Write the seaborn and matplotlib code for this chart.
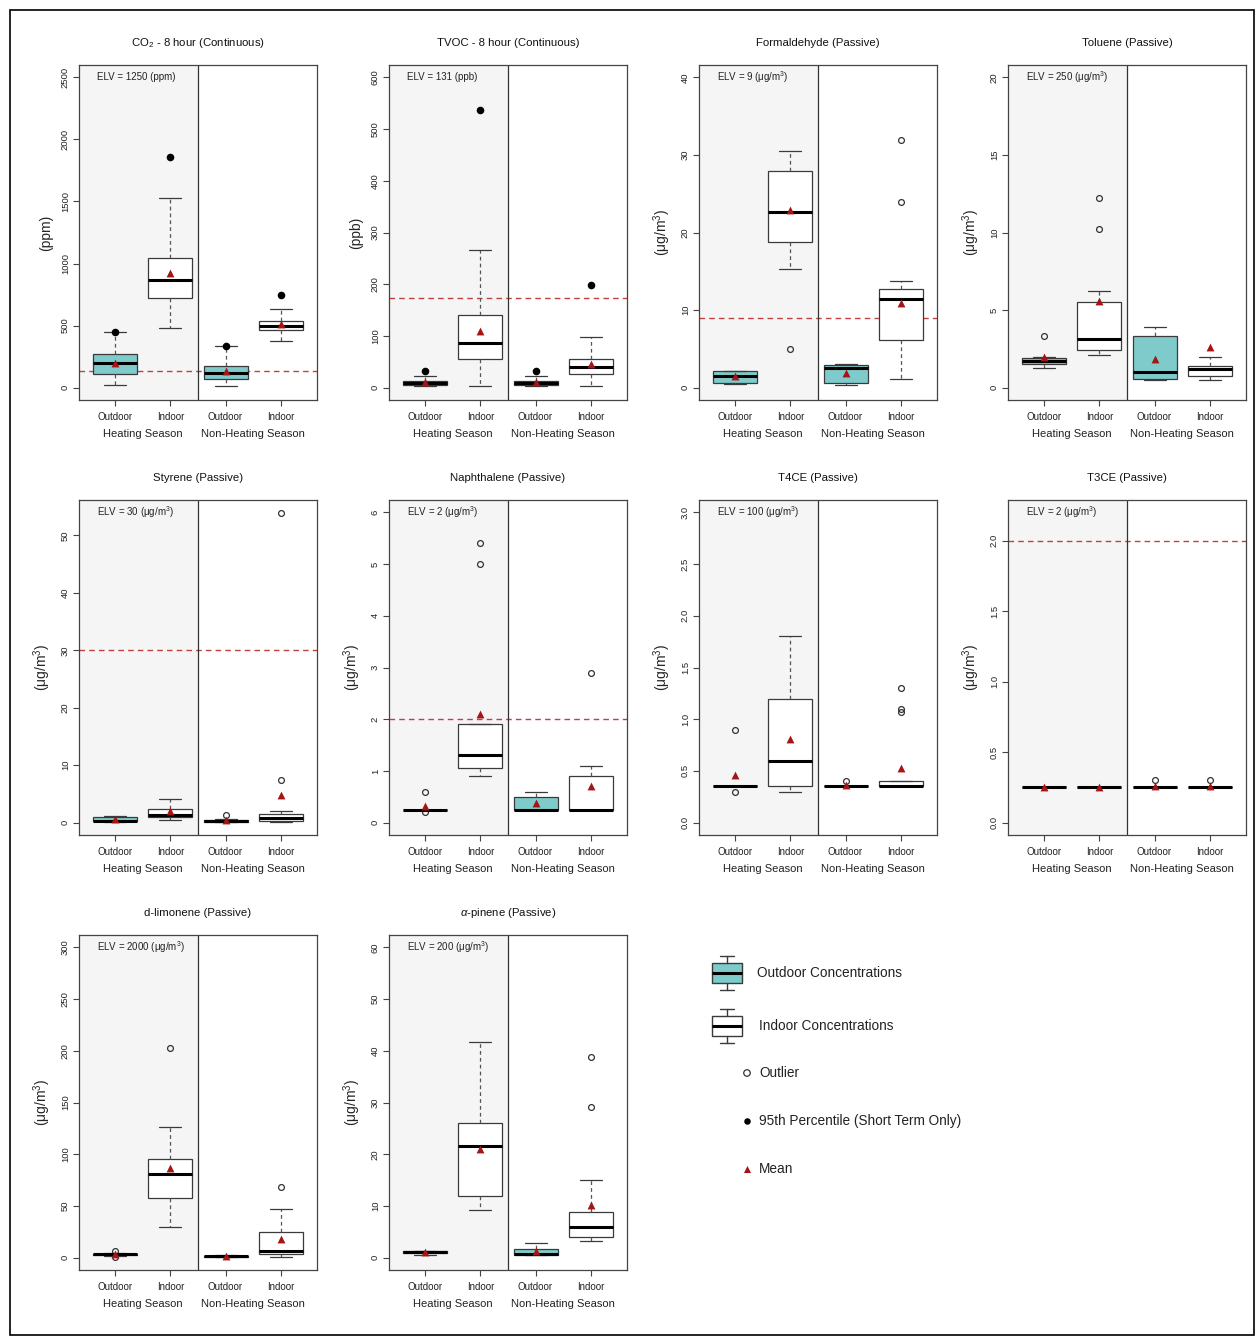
import matplotlib
matplotlib.use("Agg")
import matplotlib.pyplot as plt
import numpy as np
import pandas as pd
import seaborn as sns
from matplotlib.patches import Rectangle

# ---- data -----------------------------------------------------------------
TITLES = ["CO$_2$ - 8 hour (Continuous)", "TVOC - 8 hour (Continuous)",
          "Formaldehyde (Passive)", "Toluene (Passive)", "Styrene (Passive)",
          "Naphthalene (Passive)", "T4CE (Passive)", "T3CE (Passive)",
          "d-limonene (Passive)", "$\\alpha$-pinene (Passive)"]
UG = "(\u03bcg/m$^3$)"
YLABELS = ["(ppm)", "(ppb)"] + [UG] * 8
ELV_TEXT = ["ELV = 1250 (ppm)", "ELV = 131 (ppb)", "ELV = 9 (\u03bcg/m$^3$)",
            "ELV = 250 (\u03bcg/m$^3$)", "ELV = 30 (\u03bcg/m$^3$)", "ELV = 2 (\u03bcg/m$^3$)",
            "ELV = 100 (\u03bcg/m$^3$)", "ELV = 2 (\u03bcg/m$^3$)",
            "ELV = 2000 (\u03bcg/m$^3$)", "ELV = 200 (\u03bcg/m$^3$)"]
ELV_LINE = [132, 174, 9, None, 30, 2, None, 2, None, None]
Y_MAX = [2500, 600, 40, 20, 54, 6, 3, 2.2, 300, 60]
Y_STEP = [500, 100, 10, 5, 10, 1, 0.5, 0.5, 50, 10]

GROUPS = ["Outdoor", "Indoor", "Outdoor", "Indoor"]
SEASONS = ["Heating Season", "Non-Heating Season"]

# (whisker low, Q1, median, Q3, whisker high) for Outdoor-H, Indoor-H, Outdoor-NH, Indoor-NH
BOX_STATS = [
    [(19, 108, 202, 269, 449), (482, 724, 867, 1041, 1526), (11, 73, 121, 172, 336), (377, 463, 498, 535, 635)],
    [(2.6, 5, 9, 13, 22.6), (2.6, 55, 86.6, 140, 266), (2.6, 4.5, 9, 13, 22.6), (3, 26, 39, 55, 98)],
    [(0.4, 0.65, 1.55, 2.15, 2.15), (15.3, 18.8, 22.6, 27.9, 30.5), (0.3, 0.6, 2.5, 2.9, 3.1), (1.16, 6.1, 11.4, 12.7, 13.8)],
    [(1.29, 1.49, 1.7, 1.92, 1.95), (2.13, 2.45, 3.14, 5.55, 6.24), (0.47, 0.54, 1.0, 3.3, 3.9), (0.47, 0.73, 1.2, 1.38, 1.98)],
    [(0.1, 0.2, 0.35, 1.0, 1.1), (0.5, 1.0, 1.4, 2.3, 4.1), (0.1, 0.15, 0.3, 0.45, 0.6), (0.1, 0.35, 0.75, 1.5, 2.1)],
    [(0.25, 0.25, 0.25, 0.25, 0.25), (0.9, 1.05, 1.3, 1.9, 1.9), (0.25, 0.25, 0.25, 0.5, 0.6), (0.25, 0.25, 0.25, 0.9, 1.1)],
    [(0.35, 0.35, 0.35, 0.35, 0.35), (0.3, 0.35, 0.6, 1.2, 1.8), (0.35, 0.35, 0.35, 0.35, 0.35), (0.35, 0.35, 0.35, 0.4, 0.4)],
    [(0.25, 0.25, 0.25, 0.25, 0.25)] * 4,
    [(2, 2.5, 3, 3.5, 4), (29.4, 58, 80.8, 95.4, 126), (0.5, 1.0, 1.5, 2.0, 2.5), (0.6, 3.5, 6.8, 25, 47)],
    [(0.45, 0.85, 1.0, 1.2, 1.2), (9.2, 12, 21.6, 26.05, 41.7), (0.45, 0.5, 0.6, 1.6, 2.9), (3.2, 4.0, 6.0, 8.9, 15.0)],
]
OUTLIERS = [
    [[], [], [], []],
    [[], [], [], []],
    [[], [5.0], [], [23.9, 31.9]],
    [[3.3], [10.2, 12.2], [], []],
    [[], [], [1.3], [7.4, 53.9]],
    [[0.6, 0.2], [5.0, 5.4], [], [2.9]],
    [[0.9, 0.3], [], [0.4], [1.3, 1.1, 1.07]],
    [[], [], [0.3], [0.3]],
    [[6.5, 1.0], [202.7], [], [68]],
    [[], [], [], [29.2, 38.8]],
]
MEANS = [
    [200, 920, 135, 511], [11, 110, 11, 46], [1.5, 22.9, 1.9, 10.9], [2.0, 5.6, 1.87, 2.6],
    [0.6, 2.0, 0.45, 4.8], [0.32, 2.1, 0.38, 0.7], [0.46, 0.81, 0.36, 0.53],
    [0.25, 0.25, 0.26, 0.26], [3, 87, 1.6, 17.8], [1.1, 21.1, 1.3, 10.1],
]
P95 = [[449, 1857, 336, 745], [33, 536, 33, 198]] + [None] * 8

LEGEND_LABELS = ["Outdoor Concentrations", "Indoor Concentrations", "Outlier",
                 "95th Percentile (Short Term Only)", "Mean"]

# ---- style -----------------------------------------------------------------
TEAL = "#7fcaca"
SHADE = "#f5f5f5"
MEAN_COLOR = "#a51515"
ELV_COLOR = "#c24040"
EDGE = "#3a3a3a"
BOX_COLORS = [TEAL, "white", TEAL, "white"]
POS = [1, 2, 3, 4]

sns.set_theme(style="white")
plt.rcParams["font.family"] = ["Liberation Sans", "DejaVu Sans"]
plt.rcParams["mathtext.fontset"] = "custom"
plt.rcParams["mathtext.rm"] = "Liberation Sans"
plt.rcParams["mathtext.it"] = "Liberation Sans:italic"

W, H = 1258, 1337
COL_LEFT = [79, 389, 699, 1008]
ROW_TOP = [65, 500, 935]
AX_W, AX_H = 238, 335


def box_kwargs(lw=0.9):
    return dict(
        patch_artist=True, manage_ticks=False,
        boxprops=dict(edgecolor=EDGE, linewidth=lw),
        whiskerprops=dict(color="#555555", linewidth=lw, linestyle=(0, (3, 2.5))),
        capprops=dict(color=EDGE, linewidth=lw),
        medianprops=dict(color="black", linewidth=2.2, solid_capstyle="butt"),
        flierprops=dict(marker="o", markerfacecolor="none", markeredgecolor="#333333",
                        markersize=4.2, markeredgewidth=0.9),
    )


def draw_panel(ax, i):
    stats = [dict(whislo=lo, q1=q1, med=med, q3=q3, whishi=hi, fliers=OUTLIERS[i][j])
             for j, (lo, q1, med, q3, hi) in enumerate(BOX_STATS[i])]

    ax.axvspan(0.34, 2.5, color=SHADE, zorder=0, lw=0)
    if ELV_LINE[i] is not None:
        ax.axhline(ELV_LINE[i], color=ELV_COLOR, lw=1.0, ls=(0, (4, 3)), zorder=1)
    ax.axvline(2.5, color="#333333", lw=0.9, zorder=1)

    bp = ax.bxp(stats, positions=POS, widths=0.8, capwidths=0.4, **box_kwargs())
    for patch, c in zip(bp["boxes"], BOX_COLORS):
        patch.set_facecolor(c)

    df = pd.DataFrame({"pos": POS, "mean": MEANS[i]})
    if P95[i] is not None:
        df["p95"] = P95[i]
        sns.scatterplot(data=df, x="pos", y="p95", marker="o", color="black",
                        s=30, linewidth=0, ax=ax, zorder=6, legend=False)
    sns.scatterplot(data=df, x="pos", y="mean", marker="^", color=MEAN_COLOR,
                    s=32, linewidth=0, ax=ax, zorder=7, legend=False)

    ymax = Y_MAX[i]
    ax.set_xlim(0.34, 4.66)
    ax.set_ylim(-0.04 * ymax, 1.04 * ymax)
    ticks = np.arange(0, ymax + 1e-9, Y_STEP[i])
    ax.set_yticks(ticks)
    fmt = "{:.1f}" if Y_STEP[i] < 1 else "{:g}"
    ax.set_yticklabels([fmt.format(t) for t in ticks], fontsize=6.8, rotation=90, va="center")
    ax.set_xticks(POS)
    ax.set_xticklabels(GROUPS, fontsize=7)
    ax.tick_params(axis="both", direction="out", length=4, width=0.8, color="#444444",
                   bottom=True, left=True, labelcolor="#222222")
    ax.tick_params(axis="x", pad=4.5)
    ax.tick_params(axis="y", pad=2.5)
    ax.set_xlabel("")
    ax.set_ylabel(YLABELS[i], fontsize=10, labelpad=6)
    for sp in ax.spines.values():
        sp.set_color("#444444")
        sp.set_linewidth(0.9)

    for x, s in zip([1.5, 3.5], SEASONS):
        ax.text(x, -0.102, s, transform=ax.get_xaxis_transform(), ha="center",
                va="center", fontsize=8.0, color="#222222")
    ax.text(0.075, 0.964, ELV_TEXT[i], transform=ax.transAxes, ha="left",
            va="center", fontsize=7.0, color="#222222")
    ax.set_title(TITLES[i], fontsize=8.2, pad=14, color="#111111")


fig = plt.figure(figsize=(W / 100, H / 100), dpi=100)

for i in range(len(TITLES)):
    r, c = divmod(i, 4)
    left, top = COL_LEFT[c], ROW_TOP[r]
    ax = fig.add_axes([left / W, 1 - (top + AX_H) / H, AX_W / W, AX_H / H])
    draw_panel(ax, i)

# ---- legend panel ------------------------------------------------------------
lax = fig.add_axes([700 / W, 1 - 1195 / H, 300 / W, 250 / H])
lax.set_xlim(700, 1000)
lax.set_ylim(1195, 945)
lax.axis("off")
row_y = [973, 1026, 1073, 1121, 1169]
for k, face in enumerate([TEAL, "white"]):
    y0 = row_y[k]
    st = [dict(whislo=y0 + 17, q1=y0 + 10, med=y0, q3=y0 - 10, whishi=y0 - 17, fliers=[])]
    kw = box_kwargs(1.0)
    kw["whiskerprops"] = dict(color=EDGE, linewidth=1.0)
    b = lax.bxp(st, positions=[727], widths=30, capwidths=14, **kw)
    b["boxes"][0].set_facecolor(face)
    lax.text(757 + 2 * k, y0, LEGEND_LABELS[k], va="center", fontsize=9.8, color="#222222")

mk = pd.DataFrame({"x": [747, 747, 747], "y": row_y[2:]})
lax.scatter(mk["x"][0], mk["y"][0], marker="o", facecolor="none", edgecolor="#333333", s=22, lw=0.9)
lax.scatter(mk["x"][1], mk["y"][1], marker="o", color="black", s=22, lw=0)
lax.scatter(mk["x"][2], mk["y"][2], marker="^", color=MEAN_COLOR, s=26, lw=0)
for k in range(2, 5):
    lax.text(759, row_y[k], LEGEND_LABELS[k], va="center", fontsize=9.8, color="#222222")

# outer frame
fig.add_artist(Rectangle((10 / W, 1 - 1335 / H), 1244 / W, 1325 / H,
                         transform=fig.transFigure, fill=False, ec="black", lw=1.2))

fig.savefig("out.png", dpi=100)
